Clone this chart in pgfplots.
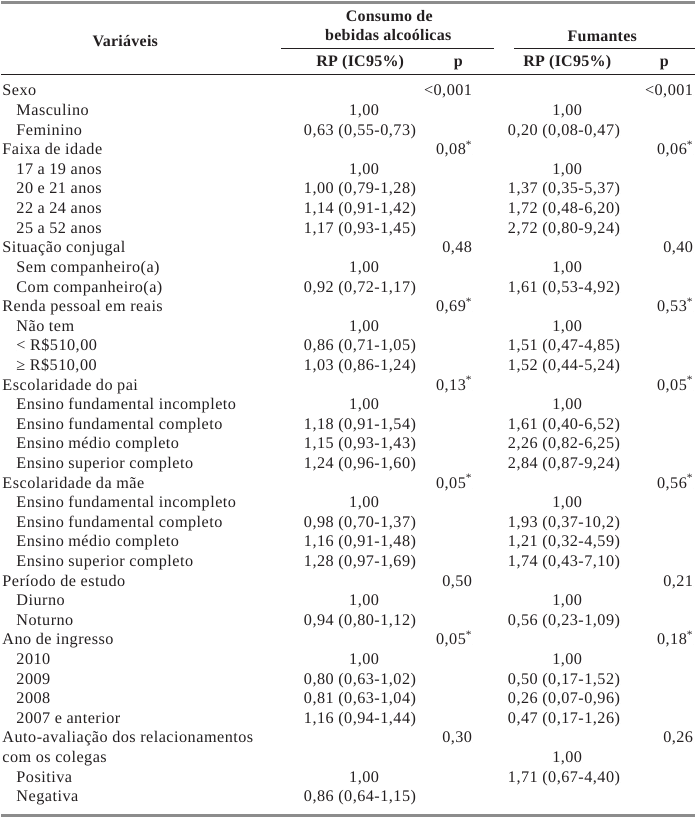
\documentclass[border=0pt]{standalone}
\usepackage{fontspec}
\setmainfont{Liberation Serif}[LetterSpace=3]
\usepackage{pgfplots}
\pgfplotsset{compat=1.18}
\usepackage{pgfplotstable}
\definecolor{ink}{HTML}{231F20}
\definecolor{rulegray}{HTML}{8C8C8C}
\newcommand\tf{\fontsize{16.2}{19}\selectfont}
\newcommand\hf{\fontsize{16}{19}\selectfont\bfseries\addfontfeature{LetterSpace=1.5}}
\tikzset{hd/.style={font=\hf, text=ink, anchor=base, inner sep=0pt}}

% row index; x of anchor; text
\pgfplotstableread[col sep=semicolon]{
row;x;label
0;1;Sexo
1;15;Masculino
2;15;Feminino
3;1;Faixa de idade
4;15;17 a 19 anos
5;15;20 e 21 anos
6;15;22 a 24 anos
7;15;25 a 52 anos
8;1;Situação conjugal
9;15;Sem companheiro(a)
10;15;Com companheiro(a)
11;1;Renda pessoal em reais
12;15;Não tem
13;15;< R\$510,00
14;15;≥ R\$510,00
15;1;Escolaridade do pai
16;15;Ensino fundamental incompleto
17;15;Ensino fundamental completo
18;15;Ensino médio completo
19;15;Ensino superior completo
20;1;Escolaridade da mãe
21;15;Ensino fundamental incompleto
22;15;Ensino fundamental completo
23;15;Ensino médio completo
24;15;Ensino superior completo
25;1;Período de estudo
26;15;Diurno
27;15;Noturno
28;1;Ano de ingresso
29;15;2010
30;15;2009
31;15;2008
32;15;2007 e anterior
33;1;Auto-avaliação dos relacionamentos
34;1;com os colegas
35;15;Positiva
36;15;Negativa
}\labels

% consumo de bebidas alcoolicas: RP (IC95%)
\pgfplotstableread[col sep=semicolon]{
row;x;label
1;378;1,00
2;415;0,63 (0,55-0,73)
4;378;1,00
5;415;1,00 (0,79-1,28)
6;415;1,14 (0,91-1,42)
7;415;1,17 (0,93-1,45)
9;378;1,00
10;415;0,92 (0,72-1,17)
12;378;1,00
13;415;0,86 (0,71-1,05)
14;415;1,03 (0,86-1,24)
16;378;1,00
17;415;1,18 (0,91-1,54)
18;415;1,15 (0,93-1,43)
19;415;1,24 (0,96-1,60)
21;378;1,00
22;415;0,98 (0,70-1,37)
23;415;1,16 (0,91-1,48)
24;415;1,28 (0,97-1,69)
26;378;1,00
27;415;0,94 (0,80-1,12)
29;378;1,00
30;415;0,80 (0,63-1,02)
31;415;0,81 (0,63-1,04)
32;415;1,16 (0,94-1,44)
35;378;1,00
36;415;0,86 (0,64-1,15)
}\rpalc

\pgfplotstableread[col sep=semicolon]{
row;x;label
0;471;<0,001
3;471;0,08\textsuperscript{*}
8;471;0,48
11;471;0,69\textsuperscript{*}
15;471;0,13\textsuperscript{*}
20;471;0,05\textsuperscript{*}
25;471;0,50
28;471;0,05\textsuperscript{*}
33;471;0,30
}\palc

% fumantes: RP (IC95%)
\pgfplotstableread[col sep=semicolon]{
row;x;label
1;581;1,00
2;619;0,20 (0,08-0,47)
4;581;1,00
5;619;1,37 (0,35-5,37)
6;619;1,72 (0,48-6,20)
7;619;2,72 (0,80-9,24)
9;581;1,00
10;619;1,61 (0,53-4,92)
12;581;1,00
13;619;1,51 (0,47-4,85)
14;619;1,52 (0,44-5,24)
16;581;1,00
17;619;1,61 (0,40-6,52)
18;619;2,26 (0,82-6,25)
19;619;2,84 (0,87-9,24)
21;581;1,00
22;619;1,93 (0,37-10,2)
23;619;1,21 (0,32-4,59)
24;619;1,74 (0,43-7,10)
26;581;1,00
27;619;0,56 (0,23-1,09)
29;581;1,00
30;619;0,50 (0,17-1,52)
31;619;0,26 (0,07-0,96)
32;619;0,47 (0,17-1,26)
34;581;1,00
35;619;1,71 (0,67-4,40)
}\rpfum

\pgfplotstableread[col sep=semicolon]{
row;x;label
0;692;<0,001
3;692;0,06\textsuperscript{*}
8;692;0,40
11;692;0,53\textsuperscript{*}
15;692;0,05\textsuperscript{*}
20;692;0,56\textsuperscript{*}
25;692;0,21
28;692;0,18\textsuperscript{*}
33;692;0,26
}\pfum

\begin{document}
\begin{tikzpicture}
\begin{axis}[
  width=694pt, height=818pt, scale only axis,
  xmin=0, xmax=694, ymin=0, ymax=818, y dir=reverse,
  hide axis, clip=false,
  every node near coord/.append style={inner sep=0pt, font=\tf, text=ink},
  txt/.style={only marks, mark=*, mark size=0pt,
    scatter/use mapped color={draw=none, fill=none},
    mark options={draw=none, fill=none},
    nodes near coords, point meta=explicit symbolic},
]
% frame of the page
\addplot[draw=none] coordinates {(0,0) (694,818)};

% rules
\addplot[rulegray, line width=2.5pt] coordinates {(0,2.5) (694,2.5)};
\addplot[ink, line width=0.9pt] coordinates {(280,48) (493,48)};
\addplot[ink, line width=0.9pt] coordinates {(513,48) (694,48)};
\addplot[ink, line width=0.9pt] coordinates {(0,74) (694,74)};
\addplot[rulegray, line width=2.5pt] coordinates {(0,815.5) (694,815.5)};

% header
\node[hd] at (axis cs:124,47) {Variáveis};
\node[hd] at (axis cs:388,22) {Consumo de};
\node[hd] at (axis cs:387,41) {bebidas alcoólicas};
\node[hd] at (axis cs:601,42) {Fumantes};
\node[hd] at (axis cs:359,67) {RP (IC95\%)};
\node[hd] at (axis cs:457,67) {p};
\node[hd] at (axis cs:566,67) {RP (IC95\%)};
\node[hd] at (axis cs:663,67) {p};

% body
\addplot[txt, every node near coord/.append style={anchor=base west}]
  table[x=x, y expr=96+19.6*\thisrow{row}, meta=label] {\labels};
\addplot[txt, every node near coord/.append style={anchor=base east}]
  table[x=x, y expr=96+19.6*\thisrow{row}, meta=label] {\rpalc};
\addplot[txt, every node near coord/.append style={anchor=base east}]
  table[x=x, y expr=96+19.6*\thisrow{row}, meta=label] {\palc};
\addplot[txt, every node near coord/.append style={anchor=base east}]
  table[x=x, y expr=96+19.6*\thisrow{row}, meta=label] {\rpfum};
\addplot[txt, every node near coord/.append style={anchor=base east}]
  table[x=x, y expr=96+19.6*\thisrow{row}, meta=label] {\pfum};
\end{axis}
\end{tikzpicture}
\end{document}
